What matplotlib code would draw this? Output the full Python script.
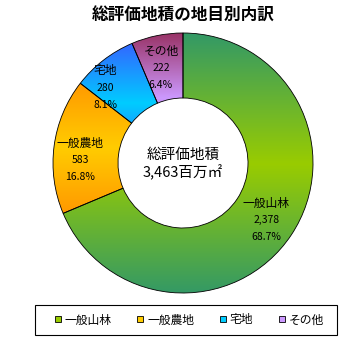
import numpy as np
import matplotlib
matplotlib.use("Agg")
import matplotlib.pyplot as plt
from matplotlib.colors import to_rgb
from matplotlib.lines import Line2D
from matplotlib.patches import Rectangle

plt.rcParams['font.family'] = ['Noto Sans CJK JP', 'DejaVu Sans']

# data
categories = ['一般山林', '一般農地', '宅地', 'その他']
values = [2378, 583, 280, 222]
percents = ['68.7%', '16.8%', '8.1%', '6.4%']
total_label = '3,463百万㎡'

# gradient colours: (edge, middle)
grad_colors = [('#339966', '#99cc00'),
               ('#ff9900', '#ffcc00'),
               ('#3366ff', '#00ccff'),
               ('#993366', '#cc99ff')]
legend_colors = ['#99cc00', '#ffcc00', '#00ccff', '#cc99ff']
# label anchor positions (data coords, radius 1 pie)
label_pos = [(0.64, -0.44), (-0.79, 0.02), (-0.60, 0.58), (-0.17, 0.73)]

W, H = 355, 342
fig = plt.figure(figsize=(W / 100, H / 100), dpi=100)
cx, cy, R = 183, 163, 130
ax = fig.add_axes([(cx - R) / W, (H - cy - R) / H, 2 * R / W, 2 * R / H])

wedges, _ = ax.pie(values, startangle=90, counterclock=False, radius=1,
                   wedgeprops=dict(width=0.5, edgecolor='black', linewidth=0.6,
                                   facecolor='none'))
ax.set_aspect('equal')
ax.axis('off')

# gradient fill clipped to each wedge: dark at top/bottom, light in the middle
for w, (edge, mid) in zip(wedges, grad_colors):
    verts = w.get_path().vertices
    y0, y1 = verts[:, 1].min(), verts[:, 1].max()
    x0, x1 = verts[:, 0].min(), verts[:, 0].max()
    t = np.abs(np.linspace(1, -1, 200))[:, None, None]
    e, m = np.array(to_rgb(edge)), np.array(to_rgb(mid))
    img = np.repeat(m * (1 - t) + e * t, 2, axis=1)
    im = ax.imshow(img, extent=(x0, x1, y0, y1), aspect='auto', zorder=0.5,
                   interpolation='bilinear')
    im.set_clip_path(w)
    w.set_zorder(1)

ax.set_xlim(-1, 1)
ax.set_ylim(-1, 1)

for (x, y), cat, v, p in zip(label_pos, categories, values, percents):
    ax.text(x, y + 0.13, cat, ha='center', va='center', fontsize=8.5, zorder=3)
    ax.text(x, y, f'{v:,}', ha='center', va='center', fontsize=7.5, zorder=3)
    ax.text(x, y - 0.13, p, ha='center', va='center', fontsize=7.5, zorder=3)

ax.text(0, 0.06, '総評価地積', ha='center', va='center', fontsize=10.5, zorder=3)
ax.text(0, -0.07, total_label, ha='center', va='center', fontsize=10.5, zorder=3)

fig.text(183 / W, 1 - 16 / H, '総評価地積の地目別内訳', ha='center', va='center',
         fontsize=12, fontweight='bold')

# legend frame drawn separately so the entries can sit a bit inside it
fig.patches.append(Rectangle((35 / W, 1 - 335 / H), 302 / W, 30 / H,
                             transform=fig.transFigure, facecolor='white',
                             edgecolor='black', linewidth=0.8))

handles = [Line2D([], [], marker='s', linestyle='none', markersize=5,
                  markerfacecolor=c, markeredgecolor='black', markeredgewidth=0.6)
           for c in legend_colors]
leg = fig.legend(handles, categories, loc='center', ncol=4,
                 bbox_to_anchor=(188 / W, 1 - 320 / H), fontsize=8.5,
                 frameon=False, handletextpad=0.1, columnspacing=1.9,
                 handlelength=1.0, borderaxespad=0)

fig.savefig('out.png', dpi=100)
